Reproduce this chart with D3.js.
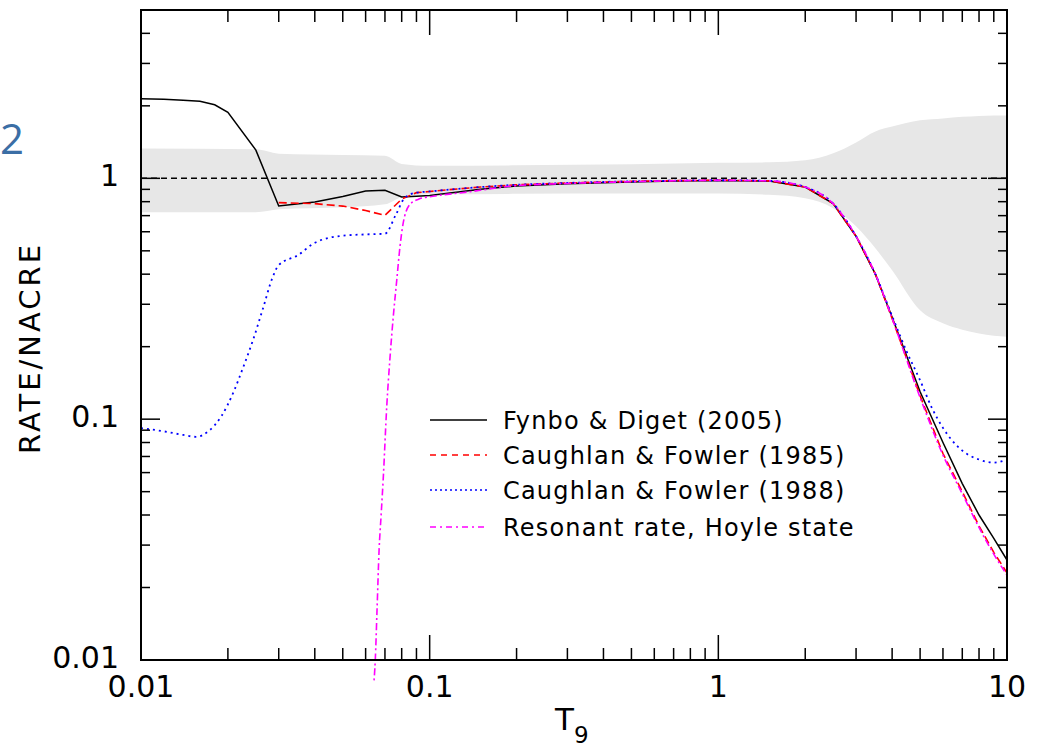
<!DOCTYPE html>
<html>
<head>
<meta charset="utf-8">
<script src="https://cdn.jsdelivr.net/npm/d3@7"></script>
<style>
  html, body { margin: 0; padding: 0; background: #fff; }
  svg { display: block; }
  text { font-family: "DejaVu Sans", sans-serif; fill: #000; }
</style>
</head>
<body>
<svg id="chart" width="1041" height="747"></svg>
<script>
// Triple-alpha rate ratios relative to NACRE, versus temperature T9.

// Uncertainty band of the NACRE rate
const bandT     = [0.01, 0.025, 0.03, 0.05, 0.07, 0.08, 0.1, 0.2, 0.5, 1, 1.5, 2, 2.5, 3, 3.5, 4, 5, 6, 7, 8, 9, 10];
const bandUpper = [1.33, 1.32, 1.266, 1.25, 1.24, 1.148, 1.127, 1.132, 1.143, 1.16, 1.165, 1.188, 1.27, 1.41, 1.566, 1.64, 1.741, 1.774, 1.80, 1.816, 1.825, 1.825];
const bandLower = [0.723, 0.723, 0.744, 0.758, 0.78, 0.835, 0.858, 0.862, 0.864, 0.864, 0.854, 0.826, 0.751, 0.632, 0.512, 0.415, 0.283, 0.25, 0.235, 0.227, 0.222, 0.22];

// Fynbo & Diget (2005)
const fynboT     = [0.01, 0.012, 0.014, 0.016, 0.018, 0.02, 0.025, 0.03, 0.04, 0.05, 0.06, 0.07, 0.08, 0.09, 0.1, 0.15, 0.2, 0.3, 0.5, 0.7, 1, 1.5, 2, 2.5, 3, 3.5, 4, 5, 6, 7, 8, 9, 10];
const fynboRatio = [2.14, 2.13, 2.11, 2.09, 2.02, 1.88, 1.31, 0.768, 0.797, 0.84, 0.886, 0.892, 0.836, 0.842, 0.848, 0.90, 0.93, 0.95, 0.966, 0.975, 0.98, 0.975, 0.92, 0.785, 0.575, 0.40, 0.265, 0.13, 0.080, 0.054, 0.040, 0.032, 0.026];

// Caughlan & Fowler (1985)
const cf85T     = [0.03, 0.04, 0.05, 0.06, 0.07, 0.08, 0.09, 0.1, 0.12, 0.15, 0.2, 0.3, 0.5, 0.7, 1, 1.5, 2, 2.5, 3, 3.5, 4, 5, 6, 7, 8, 9, 10];
const cf85Ratio = [0.793, 0.785, 0.767, 0.735, 0.702, 0.82, 0.872, 0.882, 0.90, 0.92, 0.94, 0.957, 0.972, 0.978, 0.982, 0.976, 0.92, 0.785, 0.575, 0.40, 0.262, 0.125, 0.072, 0.050, 0.036, 0.028, 0.023];

// Caughlan & Fowler (1988)
const cf88T     = [0.01, 0.012, 0.014, 0.0155, 0.0172, 0.019, 0.021, 0.0225, 0.0245, 0.0265, 0.0285, 0.03, 0.035, 0.04, 0.05, 0.06, 0.07, 0.0765, 0.082, 0.09, 0.1, 0.12, 0.15, 0.2, 0.3, 0.5, 0.7, 1, 1.5, 2, 2.5, 3, 3.5, 4, 4.5, 5, 5.5, 6, 7, 8, 9, 10];
const cf88Ratio = [0.0918, 0.089, 0.086, 0.0845, 0.0895, 0.103, 0.131, 0.162, 0.215, 0.29, 0.385, 0.436, 0.48, 0.54, 0.578, 0.585, 0.589, 0.71, 0.83, 0.872, 0.882, 0.90, 0.92, 0.94, 0.957, 0.972, 0.978, 0.982, 0.976, 0.92, 0.785, 0.575, 0.40, 0.268, 0.19, 0.145, 0.111, 0.092, 0.074, 0.068, 0.066, 0.068];

// Resonant rate through the Hoyle state
const resT     = [0.0635, 0.0643, 0.0648, 0.0657, 0.0668, 0.0679, 0.0691, 0.071, 0.0729, 0.0748, 0.0769, 0.0789, 0.0809, 0.0855, 0.0923, 0.1026, 0.135, 0.19, 0.3, 0.5, 0.7, 1, 1.5, 2, 2.5, 3, 3.5, 4, 5, 6, 7, 8, 9, 10];
const resRatio = [0.0075, 0.0085, 0.01, 0.016, 0.0286, 0.040, 0.0576, 0.1125, 0.181, 0.266, 0.377, 0.519, 0.649, 0.78, 0.822, 0.842, 0.877, 0.927, 0.952, 0.968, 0.977, 0.981, 0.976, 0.92, 0.785, 0.575, 0.40, 0.262, 0.123, 0.071, 0.049, 0.0355, 0.0275, 0.0225];

const xTickLabels = ["0.01", "0.1", "1", "10"];
const yTickLabels = ["0.01", "0.1", "1"];
const legendLabels = ["Fynbo & Diget (2005)", "Caughlan & Fowler (1985)", "Caughlan & Fowler (1988)", "Resonant rate, Hoyle state"];

const svg = d3.select("#chart");
const plot = { left: 141, right: 1007, top: 10, bottom: 660 };

const x = d3.scaleLog().domain([0.01, 10]).range([plot.left, plot.right]);
const y = d3.scaleLog().domain([0.01, 5]).range([plot.bottom, plot.top]);

// Panel number from the surrounding page
svg.append("text")
  .attr("x", 0).attr("y", 154)
  .attr("text-anchor", "start")
  .style("font-family", "'Open Sans', sans-serif")
  .style("font-size", "42px")
  .style("fill", "#3b6ea5")
  .text("2");

const defs = svg.append("defs");
defs.append("clipPath").attr("id", "curveClip")
  .append("rect")
  .attr("x", plot.left).attr("y", plot.top)
  .attr("width", plot.right - plot.left).attr("height", 683 - plot.top);

// Uncertainty band
const bandData = bandT.map((t, i) => ({ t, lo: bandLower[i], hi: bandUpper[i] }));
svg.append("path")
  .datum(bandData)
  .attr("fill", "#e7e7e7")
  .attr("d", d3.area()
    .x(d => x(d.t))
    .y0(d => y(d.lo))
    .y1(d => y(d.hi))
    .curve(d3.curveMonotoneX));

// Reference line at ratio 1
svg.append("line")
  .attr("x1", plot.left).attr("x2", plot.right)
  .attr("y1", y(1)).attr("y2", y(1))
  .attr("stroke", "#000").attr("stroke-width", 1.5)
  .attr("stroke-dasharray", "6,4");

const series = [
  { t: fynboT, v: fynboRatio, color: "#000000", dash: null,      width: 1.5, curve: d3.curveLinear },
  { t: cf85T,  v: cf85Ratio,  color: "#ff0000", dash: "8,4",     width: 1.6, curve: d3.curveLinear },
  { t: cf88T,  v: cf88Ratio,  color: "#0000ff", dash: "2,4",     width: 1.8, curve: d3.curveMonotoneX },
  { t: resT,   v: resRatio,   color: "#ff00ff", dash: "7,3,2,3", width: 1.6, curve: d3.curveMonotoneX }
];

const lineGen = (curve) => d3.line()
  .x(d => x(d[0]))
  .y(d => y(d[1]))
  .curve(curve);

const curves = svg.append("g").attr("clip-path", "url(#curveClip)");
series.forEach(s => {
  curves.append("path")
    .datum(s.t.map((t, i) => [t, s.v[i]]))
    .attr("fill", "none")
    .attr("stroke", s.color)
    .attr("stroke-width", s.width)
    .attr("stroke-dasharray", s.dash)
    .attr("d", lineGen(s.curve));
});

// Ticks on all four sides, pointing inward
function minorTicks(lo, hi) {
  const out = [];
  for (let p = Math.log10(lo); p < Math.log10(hi); p++) {
    const base = Math.pow(10, Math.round(p));
    for (let k = 1; k <= 9; k++) {
      const v = +(base * k).toPrecision(3);
      if (v >= lo && v <= hi) out.push({ v, major: k === 1 });
    }
  }
  out.push({ v: hi, major: Number.isInteger(Math.log10(hi)) });
  return out;
}
const xTicks = minorTicks(0.01, 10);
const yTicks = minorTicks(0.01, 5);

const tickG = svg.append("g").attr("stroke", "#000").attr("stroke-width", 1.5);
xTicks.forEach(tk => {
  const len = tk.major ? 25 : 12;
  const px = x(tk.v);
  tickG.append("line").attr("x1", px).attr("x2", px).attr("y1", plot.bottom).attr("y2", plot.bottom - len);
  tickG.append("line").attr("x1", px).attr("x2", px).attr("y1", plot.top).attr("y2", plot.top + len);
});
yTicks.forEach(tk => {
  const len = tk.major ? 19 : 9;
  const py = y(tk.v);
  tickG.append("line").attr("x1", plot.left).attr("x2", plot.left + len).attr("y1", py).attr("y2", py);
  tickG.append("line").attr("x1", plot.right).attr("x2", plot.right - len).attr("y1", py).attr("y2", py);
});

// Frame
svg.append("rect")
  .attr("x", plot.left).attr("y", plot.top)
  .attr("width", plot.right - plot.left).attr("height", plot.bottom - plot.top)
  .attr("fill", "none").attr("stroke", "#000").attr("stroke-width", 2);

// Tick labels
xTickLabels.forEach(lbl => {
  svg.append("text")
    .attr("x", x(+lbl)).attr("y", 697)
    .attr("text-anchor", "middle")
    .style("font-size", "30px")
    .text(lbl);
});
yTickLabels.forEach(lbl => {
  svg.append("text")
    .attr("x", 119).attr("y", y(+lbl) + 8)
    .attr("text-anchor", "end")
    .style("font-size", "30px")
    .text(lbl);
});

// Axis titles
const xTitle = svg.append("text")
  .attr("x", 555).attr("y", 730)
  .style("font-size", "31px");
xTitle.append("tspan").text("T");
xTitle.append("tspan").attr("dy", 13).style("font-size", "23px").text("9");

svg.append("text")
  .attr("transform", "translate(40,348) rotate(-90)")
  .attr("text-anchor", "middle")
  .style("font-size", "29px")
  .style("letter-spacing", "3px")
  .text("RATE/NACRE");

// Legend
const legendRows = [420, 455, 490, 527];
legendLabels.forEach((lbl, i) => {
  const s = series[i];
  svg.append("line")
    .attr("x1", 430).attr("x2", 487)
    .attr("y1", legendRows[i]).attr("y2", legendRows[i])
    .attr("stroke", s.color)
    .attr("stroke-width", i === 0 ? 1.5 : 1.6)
    .attr("stroke-dasharray", i === 1 ? "6,5" : i === 2 ? "2,3" : i === 3 ? "6,4,2,4" : null);
  svg.append("text")
    .attr("x", 503).attr("y", legendRows[i] + 9)
    .style("font-size", "24px")
    .style("letter-spacing", "1.2px")
    .text(lbl);
});
</script>
</body>
</html>
